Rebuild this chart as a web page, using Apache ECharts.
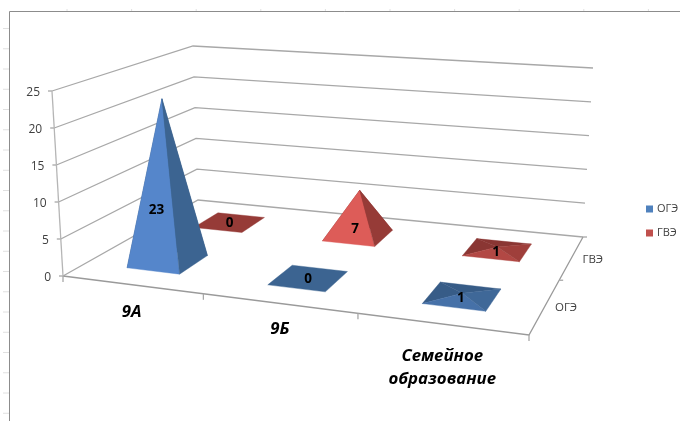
<!DOCTYPE html>
<html><head><meta charset="utf-8">
<style>html,body{margin:0;padding:0;background:#fff}#c{width:680px;height:421px}</style>
<script src="https://cdn.jsdelivr.net/npm/echarts@6/dist/echarts.min.js"></script>
</head><body><div id="c"></div>
<script>
// ---- data ----
const categories = ['9А', '9Б', 'Семейное\nобразование'];
const depthNames = ['ОГЭ', 'ГВЭ'];
const valuesOGE = [23, 0, 1];
const valuesGVE = [0, 7, 1];
const yTicks = [0, 5, 10, 15, 20, 25];

// ---- projection of the 3D box (front-left, front-right, back-right, back-left) ----
const floorQuad = [[63,276],[529,335],[583,237],[198,200]];
const topQuad   = [[52,91],[562,138],[593,68],[193,46]];
function homography(q){
  const [p0,p1,p2,p3]=q;
  const dx1=p1[0]-p2[0],dx2=p3[0]-p2[0],sx=p0[0]-p1[0]+p2[0]-p3[0];
  const dy1=p1[1]-p2[1],dy2=p3[1]-p2[1],sy=p0[1]-p1[1]+p2[1]-p3[1];
  const d=dx1*dy2-dx2*dy1;
  const g=(sx*dy2-dx2*sy)/d,h=(dx1*sy-sx*dy1)/d;
  const a=p1[0]-p0[0]+g*p1[0],b=p3[0]-p0[0]+h*p3[0],c=p0[0];
  const e=p1[1]-p0[1]+g*p1[1],f=p3[1]-p0[1]+h*p3[1],k=p0[1];
  return (u,v)=>{const w=g*u+h*v+1;return [(a*u+b*v+c)/w,(e*u+f*v+k)/w];};
}
const floorH=homography(floorQuad), topH=homography(topQuad);
function project(u,v,w){
  const a=floorH(u,v),b=topH(u,v);
  return [a[0]+(b[0]-a[0])*w,a[1]+(b[1]-a[1])*w];
}
function unit(api,params,idx,val){
  const c=api.coord([idx,val]),s=params.coordSys;
  return [(c[0]-s.x)/s.width,(s.y+s.height-c[1])/s.height];
}
function mix(a,b,t){
  const p=x=>[1,3,5].map(i=>parseInt(x.substr(i,2),16));
  const A=p(a),B=p(b);
  return 'rgb('+A.map((n,i)=>Math.round(n+(B[i]-n)*t)).join(',')+')';
}
const AXIS='#a8a8a8', TXT='#404040';
const line=(pts,stroke,lw)=>({type:'polyline',shape:{points:pts},style:{fill:null,stroke:stroke||AXIS,lineWidth:lw||1.3},silent:true});
const text=(x,y,t,font,fill,align)=>({type:'text',silent:true,style:{x:x,y:y,text:t,font:font,fill:fill||TXT,align:align||'center',verticalAlign:'middle',lineHeight:23}});

// ---- walls and value axis ----
function renderWall(params,api){
  const val=api.value(0);
  const c=api.coord([0,val]),s=params.coordSys;
  const w=(s.y+s.height-c[1])/s.height;
  const a=project(0,0,w),b=project(0,1,w),d=project(1,1,w);
  const ch=[
    line([a,b,d]),
    line([[a[0]-4,a[1]],a]),
    text(a[0]-12,a[1]+2,String(val),'12px "Open Sans"',TXT,'right')
  ];
  return {type:'group',children:ch};
}
// ---- floor frame, ticks ----
function renderFrame(params,api){
  const f=[project(0,0,0),project(1,0,0),project(1,1,0)];
  const ch=[line(f,'#9a9a9a',1.3),line([project(0,0,0),project(0,0,1)],'#b5b5b5',1.3)];
  [0,.5,1].forEach(v=>{const p=project(1,v,0);
    ch.push(line(v===0?[p,[p[0],p[1]+6]]:[p,[p[0]+4,p[1]]]));});
  const z=project(0,0,0);ch.push(line([z,[z[0],z[1]+6]]));
  return {type:'group',children:ch};
}
// ---- category ticks and labels ----
function renderCategory(params,api){
  const i=api.value(0);
  const [u]=unit(api,params,i,0);
  const step=2*u/(2*i+1);
  const p=project(u+step/2,0,0);
  const ch=[];
  if(i<categories.length-1) ch.push(line([p,[p[0],p[1]+6]]));
  const l=project(u,0,0);
  const name=categories[i];
  ch.push(text(l[0]+(i===0?0:1),l[1]+(name.indexOf('\n')>=0?44:(i===0?28:26)),name,'italic bold 16.8px "Open Sans"','#000'));
  return {type:'group',children:ch};
}
function renderDepth(params,api){
  const j=api.value(0);
  const p=project(1,(j+.5)/2,0);
  return text(p[0]+21,p[1]+2,depthNames[j],'11.5px "Open Sans"',TXT);
}
// ---- pyramids ----
const HU=0.064, HV=0.105;
function pyramid(depth,lit,shade,dark){
  return function(params,api){
    const i=api.value(0),val=api.value(1);
    const [u,w0]=unit(api,params,i,val);
    const w=val<=1?w0*0.4:w0;
    const v=(depth+.5)/2;
    const A=project(u-HU,v-HV,0),B=project(u+HU,v-HV,0),C=project(u+HU,v+HV,0),D=project(u-HU,v+HV,0);
    const E=project(u,v,w),ch=[];
    if(val>1){E[0]+=4;E[1]+=2;}
    const poly=(pts,fill)=>({type:'polygon',shape:{points:pts},style:{fill:fill,stroke:fill,lineWidth:.4},silent:true});
    if(val===0){ch.push(poly([A,B,C,D],shade));}
    else{
      const t=Math.min(1,val/3.4+0.1);
      ch.push(poly([D,A,E],dark),poly([C,D,E],dark),poly([A,B,E],mix(shade,lit,t)),poly([B,C,E],val<=1?mix(shade,lit,.12):shade));
    }
    const L=project(u,v,w*(val>10?0.33:0.19));
    ch.push(text(L[0]-val*0.35-(val===1?1:0),L[1]+(val>=1?3:1),String(val),'bold 13.5px "Open Sans"','#000'));
    return {type:'group',children:ch};
  };
}
const BLUE='#4f81bd', RED='#c0504d';
const rows=a=>a.map((v,i)=>[i,v]);
const deco=[];
for(let y=28.5;y<421;y+=20.25) deco.push({type:'line',silent:true,shape:{x1:3,y1:y,x2:9,y2:y},style:{stroke:'#e0e0e0',lineWidth:1}});
for(let x=67;x<680;x+=64.6) deco.push({type:'line',silent:true,shape:{x1:x,y1:9,x2:x,y2:11},style:{stroke:'#e0e0e0',lineWidth:1}});
deco.push({type:'polyline',silent:true,shape:{points:[[9.5,421],[9.5,11.5],[680,11.5]]},style:{fill:null,stroke:'#8c8c8c',lineWidth:1}});

const chart=echarts.init(document.getElementById('c'),null,{renderer:'canvas'});
chart.setOption({
  animation:false,backgroundColor:'#fff',
  graphic:deco,
  grid:{left:0,right:0,top:0,bottom:0,show:false},
  xAxis:{type:'category',data:categories,show:false},
  yAxis:{type:'value',min:0,max:25,interval:5,show:false},
  legend:{orient:'vertical',left:641,top:201,itemWidth:7,itemHeight:7,itemGap:8,padding:[0,0,0,5],
    data:depthNames,icon:'rect',selectedMode:false,
    textStyle:{fontFamily:'Open Sans',fontSize:11,color:TXT,lineHeight:16,padding:[0,0,0,-1]}},
  tooltip:{show:false},
  series:[
    {type:'custom',data:yTicks.map(v=>[v]),encode:{y:0},renderItem:renderWall,z:1,silent:true},
    {type:'custom',data:[[0]],renderItem:renderFrame,z:1,silent:true},
    {type:'custom',data:categories.map((c,i)=>[i]),encode:{x:0},renderItem:renderCategory,z:1,silent:true},
    {type:'custom',data:depthNames.map((c,i)=>[i]),renderItem:renderDepth,z:1,silent:true},
    {type:'custom',name:'ГВЭ',data:rows(valuesGVE),encode:{x:0,y:1},itemStyle:{color:RED},z:3,silent:true,
      renderItem:pyramid(1,'#dd5c58','#963b37','#8a3633')},
    {type:'custom',name:'ОГЭ',data:rows(valuesOGE),encode:{x:0,y:1},itemStyle:{color:BLUE},z:4,silent:true,
      renderItem:pyramid(0,'#5586cb','#3c6491','#375c87')}
  ]
});
</script></body></html>
